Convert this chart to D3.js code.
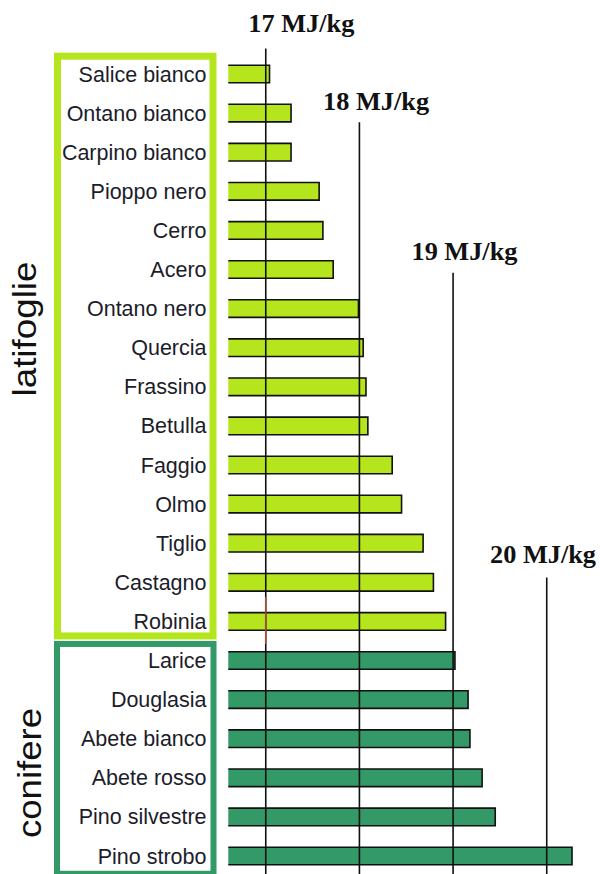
<!DOCTYPE html>
<html>
<head>
<meta charset="utf-8">
<style>
  body { margin: 0; background: #fff; }
  .name { font-family: "Liberation Sans", Arial, sans-serif; font-size: 21.5px; fill: #1c1c2a; }
  .group { font-family: "Liberation Sans", Arial, sans-serif; font-size: 33px; fill: #111; }
  .ref { font-family: "Liberation Serif", "Times New Roman", serif; font-size: 26px; font-weight: bold; fill: #111; }
</style>
</head>
<body>
<svg width="600" height="874"></svg>
<script src="https://d3js.org/d3.v7.min.js"></script>
<script>
// potere calorifico (MJ/kg) per specie
var species = ["Salice bianco", "Ontano bianco", "Carpino bianco", "Pioppo nero", "Cerro", "Acero",
               "Ontano nero", "Quercia", "Frassino", "Betulla", "Faggio", "Olmo", "Tiglio", "Castagno",
               "Robinia", "Larice", "Douglasia", "Abete bianco", "Abete rosso", "Pino silvestre", "Pino strobo"];
var energy = [17.04, 17.27, 17.27, 17.57, 17.61, 17.72,
              17.99, 18.04, 18.07, 18.09, 18.35, 18.45, 18.68, 18.79,
              18.92, 19.02, 19.16, 19.18, 19.31, 19.45, 20.27];
var groupOf = ["latifoglie", "latifoglie", "latifoglie", "latifoglie", "latifoglie", "latifoglie",
               "latifoglie", "latifoglie", "latifoglie", "latifoglie", "latifoglie", "latifoglie", "latifoglie", "latifoglie",
               "latifoglie", "conifere", "conifere", "conifere", "conifere", "conifere", "conifere"];
var refValues = [17, 18, 19, 20];
var refLabels = ["17 MJ/kg", "18 MJ/kg", "19 MJ/kg", "20 MJ/kg"];
var groupNames = ["latifoglie", "conifere"];

var lightGreen = "#b5e61d", darkGreen = "#339966";
var colors = { latifoglie: lightGreen, conifere: darkGreen };

var svg = d3.select("svg");
var data = species.map(function(s, i) { return { name: s, value: energy[i], group: groupOf[i] }; });

var x = d3.scaleLinear().domain([16.6, 20.4]).range([228.3, 584.2]);
var y = d3.scaleBand().domain(species).range([54.45, 875.55]).paddingInner(0.55).paddingOuter(0.275);
var step = y.step(), bw = y.bandwidth();
// row index -> pixel (centre of row)
var yRow = d3.scaleLinear().domain([0, species.length - 1])
    .range([y(species[0]) + bw / 2, y(species[species.length - 1]) + bw / 2]);

// group boxes
var lastLat = data.filter(function(d) { return d.group === "latifoglie"; }).pop().name;
var split = y(lastLat) + bw / 2 + step / 2;
var boxes = [
  { g: "latifoglie", top: y(species[0]) - 12.5, bottom: split - 1.5, sw: 7 },
  { g: "conifere", top: split, bottom: y(species[species.length - 1]) + bw + 12, sw: 6 }
];
svg.append("g").selectAll("rect").data(boxes).enter().append("rect")
  .attr("x", function(d) { return 54 + d.sw / 2; })
  .attr("y", function(d) { return d.top + d.sw / 2; })
  .attr("width", function(d) { return 162.5 - d.sw; })
  .attr("height", function(d) { return d.bottom - d.top - d.sw; })
  .attr("fill", "none")
  .attr("stroke", function(d) { return colors[d.g]; })
  .attr("stroke-width", function(d) { return d.sw; });

// group titles, rotated
var titlePos = { latifoglie: { cx: 36, cy: 329, len: 135 }, conifere: { cx: 41, cy: 773, len: 130 } };
svg.append("g").selectAll("text").data(groupNames).enter().append("text")
  .attr("class", "group")
  .attr("text-anchor", "middle")
  .attr("textLength", function(d) { return titlePos[d].len; })
  .attr("lengthAdjust", "spacingAndGlyphs")
  .attr("transform", function(d) { return "translate(" + titlePos[d].cx + "," + titlePos[d].cy + ") rotate(-90)"; })
  .text(function(d) { return d; });

// species names
svg.append("g").selectAll("text").data(data).enter().append("text")
  .attr("class", "name")
  .attr("text-anchor", "end")
  .attr("x", 206.5)
  .attr("y", function(d) { return y(d.name) + bw / 2 + 7.5; })
  .text(function(d) { return d.name; });

// bars (no left border)
var bars = svg.append("g").selectAll("g").data(data).enter().append("g");
bars.append("rect")
  .attr("x", x(16.6))
  .attr("y", function(d) { return y(d.name); })
  .attr("width", function(d) { return x(d.value) - x(16.6); })
  .attr("height", bw)
  .attr("fill", function(d) { return colors[d.group]; });
bars.append("path")
  .attr("fill", "none")
  .attr("stroke", "#111")
  .attr("stroke-width", 1.6)
  .attr("d", function(d) {
    var x0 = x(16.6), x1 = x(d.value), y0 = y(d.name), y1 = y(d.name) + bw;
    return "M" + x0 + "," + y0 + "H" + x1 + "V" + y1 + "H" + x0;
  });

// reference lines with labels
var refTopRow = [-0.65, 1.235, 5.08, 12.88];
var labelDx = [-17.4, -36.3, -41.6, -56.7];
var labelDy = [-16.5, -12.5, -13, -14.5];
var refs = svg.append("g").selectAll("g").data(refValues).enter().append("g");
refs.append("line")
  .attr("x1", function(d) { return x(d); })
  .attr("x2", function(d) { return x(d); })
  .attr("y1", function(d, i) { return yRow(refTopRow[i]); })
  .attr("y2", 874)
  .attr("stroke", "#111")
  .attr("stroke-width", 1.6);
refs.append("text")
  .attr("class", "ref")
  .attr("x", function(d, i) { return x(d) + labelDx[i]; })
  .attr("y", function(d, i) { return yRow(refTopRow[i]) + labelDy[i]; })
  .attr("textLength", 106)
  .attr("lengthAdjust", "spacingAndGlyphs")
  .text(function(d, i) { return refLabels[i]; });

// reddish segment on the 17 line near the group split
svg.append("line")
  .attr("x1", x(17)).attr("x2", x(17))
  .attr("y1", split - 44).attr("y2", split + 3)
  .attr("stroke", "#b4503a")
  .attr("stroke-width", 1.4);
</script>
</body>
</html>
